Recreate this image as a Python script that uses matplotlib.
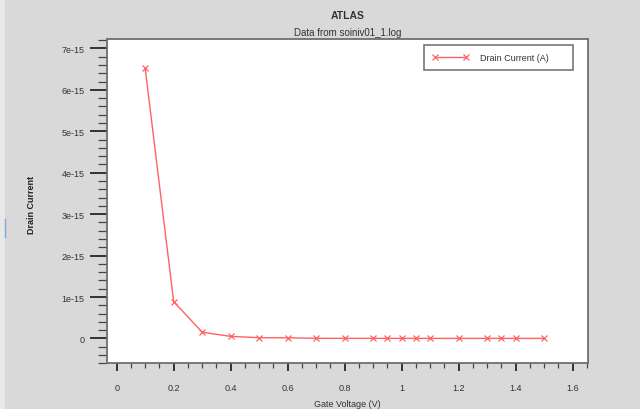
import matplotlib
matplotlib.use("Agg")
import matplotlib.pyplot as plt
from matplotlib.ticker import FixedLocator, MultipleLocator
from matplotlib.lines import Line2D
from matplotlib.patches import Rectangle

# ---- data ----
gate_voltage = [0.1, 0.2, 0.3, 0.4, 0.5, 0.6, 0.7, 0.8, 0.9, 0.95, 1.0,
                1.05, 1.1, 1.2, 1.3, 1.35, 1.4, 1.5]
drain_current = [6.52e-15, 0.89e-15, 0.15e-15, 0.05e-15, 0.018e-15, 0.015e-15,
                 0.003e-15, 0.002e-15, 0.002e-15, 0.002e-15, 0.001e-15,
                 0.001e-15, 0.001e-15, 0.001e-15, 0.001e-15, 0.001e-15,
                 0.001e-15, 0.001e-15]
xtick_values = [0, 0.2, 0.4, 0.6, 0.8, 1.0, 1.2, 1.4, 1.6]
xtick_labels = ['0', '0.2', '0.4', '0.6', '0.8', '1', '1.2', '1.4', '1.6']
ytick_values = [0, 1e-15, 2e-15, 3e-15, 4e-15, 5e-15, 6e-15, 7e-15]
ytick_labels = ['0', '1e-15', '2e-15', '3e-15', '4e-15', '5e-15', '6e-15', '7e-15']
series_label = 'Drain Current (A)'
title_main = 'ATLAS'
title_sub = 'Data from soiniv01_1.log'
xlabel = 'Gate Voltage (V)'
ylabel = 'Drain Current'

plt.rcParams['font.family'] = ['Liberation Sans', 'DejaVu Sans']

W, H = 640, 410
fig = plt.figure(figsize=(6.4, 4.1), dpi=100, facecolor='#d9d9d9')

# light strip on the left edge
fig.patches.append(Rectangle((0, 0), 5 / W, 1, transform=fig.transFigure,
                             facecolor='#e8e8e8', edgecolor='none', zorder=0))
fig.lines.append(Line2D([4.5 / W, 4.5 / W], [1 - 220 / H, 1 - 238 / H],
                        transform=fig.transFigure, color='#7fa7d9', lw=1))

left, right, top, bottom = 106.7, 588.3, 39.5, 364.3
ax = fig.add_axes([left / W, 1 - bottom / H, (right - left) / W, (bottom - top) / H])
ax.set_facecolor('white')

red = '#ff6262'
ax.plot(gate_voltage, drain_current, color=red, lw=1.0, marker='x',
        markersize=3.8, markeredgewidth=0.9, label=series_label)

ax.set_xlim(-0.035, 1.655)
ax.set_ylim(-0.60e-15, 7.24e-15)

ax.xaxis.set_major_locator(FixedLocator(xtick_values))
ax.set_xticklabels(xtick_labels)
ax.xaxis.set_minor_locator(MultipleLocator(0.05))
ax.yaxis.set_major_locator(FixedLocator(ytick_values))
ax.set_yticklabels(ytick_labels)
ax.yaxis.set_minor_locator(MultipleLocator(0.2e-15))

spine_col = '#6e6e6e'
for s in ax.spines.values():
    s.set_color(spine_col)
    s.set_linewidth(1.3)

ax.tick_params(axis='x', which='major', direction='out', length=5.5, width=1.4,
               color='#333333', labelsize=6.5, pad=9, labelcolor='#333333')
ax.tick_params(axis='x', which='minor', direction='out', length=3.5, width=0.9,
               color='#444444')
ax.tick_params(axis='y', which='major', direction='out', length=12, width=1.4,
               color='#333333', labelsize=6.5, pad=4, labelcolor='#333333')
ax.tick_params(axis='y', which='minor', direction='out', length=6.5, width=0.9,
               color='#444444')
ax.tick_params(top=False, right=False, which='both')

leg = ax.legend(loc='upper left', mode='expand',
                bbox_to_anchor=(424 / W, 1 - 71 / H, 149 / W, 25 / H),
                bbox_transform=fig.transFigure, borderaxespad=0,
                numpoints=2, handlelength=4.0, handletextpad=1.3,
                fontsize=6.5, fancybox=False, framealpha=1, borderpad=0.9)
leg.get_frame().set_edgecolor('#777777')
leg.get_frame().set_linewidth(1.2)
for t in leg.get_texts():
    t.set_color('#333333')

cx = (left + right) / 2 / W
fig.text(cx, 1 - 16 / H, title_main, ha='center', va='center', fontsize=7.5,
         fontweight='bold', color='#333333')
fig.text(cx, 1 - 33 / H, title_sub, ha='center', va='center', fontsize=7,
         color='#333333')
fig.text(cx, 1 - 405 / H, xlabel, ha='center', va='center', fontsize=6.5,
         color='#333333')
fig.text(32 / W, 1 - 205 / H, ylabel, ha='center', va='center', fontsize=6.5,
         fontweight='bold', rotation=90, color='#222222')

fig.savefig('out.png', dpi=100, facecolor=fig.get_facecolor())
